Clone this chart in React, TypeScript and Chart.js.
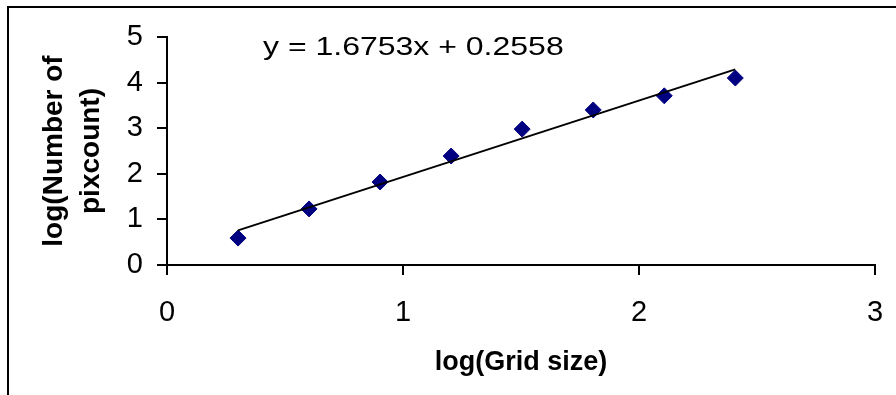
import React, { useEffect, useRef } from "react";
import { Chart, registerables } from "chart.js";

Chart.register(...registerables);

// ---- data ----
const logGridSize = [0.301, 0.602, 0.903, 1.204, 1.505, 1.806, 2.107, 2.408];
const logPixcount = [0.59, 1.23, 1.82, 2.39, 2.98, 3.4, 3.71, 4.1];
const trendSlope = 1.6753;
const trendIntercept = 0.2558;
const xTickValues = [0, 1, 2, 3];
const yTickValues = [0, 1, 2, 3, 4, 5];
const xTitle = "log(Grid size)";
const yTitle = ["log(Number of", "pixcount)"];
const equationText = "y = 1.6753x + 0.2558";

const FONT = "'Liberation Sans', Arial, Helvetica, sans-serif";

const decorPlugin = {
  id: "decor",
  afterDraw(chart: any) {
    const ctx = chart.ctx;
    ctx.save();
    // outer chart border (left and top visible)
    ctx.fillStyle = "#000";
    ctx.fillRect(7, 6, 2, 395);
    ctx.fillRect(7, 6, 896, 2);
    // trendline equation
    ctx.font = `25px ${FONT}`;
    ctx.textAlign = "left";
    ctx.textBaseline = "alphabetic";
    ctx.translate(263, 55);
    ctx.scale(1.28, 1);
    ctx.fillText(equationText, 0, 0);
    ctx.restore();
  },
};

export default function App() {
  const canvasRef = useRef<HTMLCanvasElement | null>(null);

  useEffect(() => {
    const canvas = canvasRef.current;
    if (!canvas) return;
    const xMin = logGridSize[0];
    const xMax = logGridSize[logGridSize.length - 1];
    const trend = [
      { x: xMin, y: trendSlope * xMin + trendIntercept },
      { x: xMax, y: trendSlope * xMax + trendIntercept },
    ];
    const chart = new Chart(canvas, {
      type: "scatter",
      data: {
        datasets: [
          {
            label: "trend",
            data: trend,
            showLine: true,
            borderColor: "#000000",
            borderWidth: 2,
            pointRadius: 0,
            fill: false,
            order: 1,
          },
          {
            label: "log(Number of pixcount)",
            data: logGridSize.map((x, i) => ({ x, y: logPixcount[i] })),
            pointStyle: "rectRot",
            pointRadius: 8,
            backgroundColor: "#000080",
            borderColor: "#000080",
            borderWidth: 1,
            order: 2,
          },
        ],
      },
      options: {
        responsive: false,
        animation: false,
        devicePixelRatio: 1,
        layout: { padding: { top: 37, right: 21, left: 0, bottom: 0 } },
        plugins: {
          legend: { display: false },
          tooltip: { enabled: false },
        },
        scales: {
          x: {
            type: "linear",
            min: xTickValues[0],
            max: xTickValues[xTickValues.length - 1],
            afterBuildTicks: (s: any) => {
              s.ticks = xTickValues.map((v) => ({ value: v }));
            },
            ticks: {
              font: { family: FONT, size: 29, lineHeight: 2.62 },
              color: "#000",
              padding: 0,
              maxRotation: 0,
            },
            grid: {
              display: true,
              drawOnChartArea: false,
              drawTicks: true,
              tickLength: 10,
              color: "#000",
              lineWidth: 2,
            },
            border: { display: true, color: "#000", width: 2 },
            title: {
              display: true,
              text: xTitle,
              color: "#000",
              font: { family: FONT, size: 27, weight: "bold", lineHeight: 1.2 },
              padding: { top: 0, bottom: 16 },
            },
            afterFit: (s: any) => {
              s.height = 130;
            },
          },
          y: {
            type: "linear",
            min: yTickValues[0],
            max: yTickValues[yTickValues.length - 1],
            afterBuildTicks: (s: any) => {
              s.ticks = yTickValues.map((v) => ({ value: v }));
            },
            ticks: {
              font: { family: FONT, size: 29 },
              color: "#000",
              padding: 14,
            },
            grid: {
              display: true,
              drawOnChartArea: false,
              drawTicks: true,
              tickLength: 10,
              color: "#000",
              lineWidth: 2,
            },
            border: { display: true, color: "#000", width: 2 },
            title: {
              display: true,
              text: yTitle,
              color: "#000",
              font: { family: FONT, size: 28, weight: "bold", lineHeight: 1.32 },
              padding: { top: 36, bottom: 0 },
            },
            afterFit: (s: any) => {
              s.width = 167;
            },
          },
        },
      },
      plugins: [decorPlugin],
    } as any);
    return () => chart.destroy();
  }, []);

  return (
    <div
      style={{
        position: "fixed",
        left: 0,
        top: 0,
        width: 896,
        height: 395,
        background: "#fff",
      }}
    >
      <canvas ref={canvasRef} width={896} height={395} style={{ display: "block" }} />
    </div>
  );
}
